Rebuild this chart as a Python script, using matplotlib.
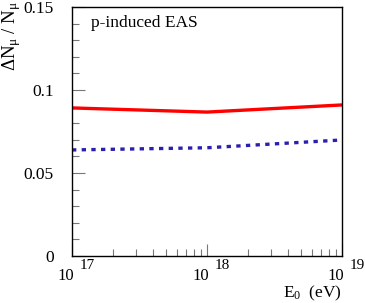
import numpy as np
import matplotlib
matplotlib.use("Agg")
import matplotlib.pyplot as plt
from matplotlib.ticker import MultipleLocator, LogLocator, NullFormatter
import matplotlib.transforms as mtrans

plt.rcParams['font.family'] = ['Liberation Serif', 'DejaVu Serif']
plt.rcParams['mathtext.fontset'] = 'custom'
plt.rcParams['mathtext.rm'] = 'Liberation Serif'
plt.rcParams['mathtext.it'] = 'Liberation Serif'

# Data
energy = [1e17, 1e18, 1e19]
p_red = [0.0892, 0.0867, 0.0910]
p_blue = [0.0639, 0.0652, 0.0699]
xtick_exps = [17, 18, 19]

fig = plt.figure(figsize=(3.65, 3.03), dpi=100)
ax = fig.add_axes([72/365, 1-256/303, 270/365, 249/303])

ax.plot(energy, p_red, color='#ff0000', lw=2.4, solid_capstyle='butt')
ax.plot(energy, p_blue, color='#2a1fae', lw=2.4, linestyle=(0, (1.3, 1.6)))

ax.set_xscale('log')
ax.set_xlim(1e17, 1e19)
ax.set_ylim(0, 0.15)

ax.yaxis.set_minor_locator(MultipleLocator(0.01))
ax.set_yticks([0, 0.05, 0.1, 0.15])
ax.set_yticklabels(['0', '0.05', '0.1', '0.15'], fontsize=12.5)
ax.tick_params(axis='y', which='major', direction='in', length=9, width=0.8,
               color='#777777', pad=13, right=False)
ax.tick_params(axis='y', which='minor', direction='in', length=5, width=0.8,
               color='#777777', right=False)

ax.xaxis.set_minor_locator(LogLocator(base=10, subs=np.arange(2, 10)))
ax.xaxis.set_minor_formatter(NullFormatter())
ax.set_xticks(energy)
ax.set_xticklabels(['', '', ''])
ax.tick_params(axis='x', which='major', direction='in', length=9, width=0.8,
               color='#777777', top=False)
ax.tick_params(axis='x', which='minor', direction='in', length=5, width=0.8,
               color='#777777', top=False)

for s in ax.spines.values():
    s.set_linewidth(1.0)
    s.set_color('black')

# ROOT-style exponent tick labels
trans = mtrans.blended_transform_factory(ax.transData, ax.transAxes)
for e, x in zip(xtick_exps, energy):
    t10 = trans + mtrans.ScaledTranslation(2/100, 0, fig.dpi_scale_trans)
    tex = trans + mtrans.ScaledTranslation(8/100, 0, fig.dpi_scale_trans)
    ax.text(x, -0.047, '10', transform=t10, ha='right', va='top', fontsize=12)
    ax.text(x, -0.012, str(e), transform=tex, ha='left', va='top',
            fontsize=11)

ax.text(0.07, 0.935, 'p-induced EAS', transform=ax.transAxes, fontsize=12.5,
        ha='left', va='center')

fig.text(342/365, 1-293/303, r'E$_{0}$  (eV)', ha='right', va='center',
         fontsize=12.5)
fig.text(12/365, 1-1/303, r'$\Delta$N$_{\mu}$ / N$_{\mu}$', rotation=90,
         ha='center', va='top', fontsize=13.5)

fig.savefig('out.png', dpi=100)
